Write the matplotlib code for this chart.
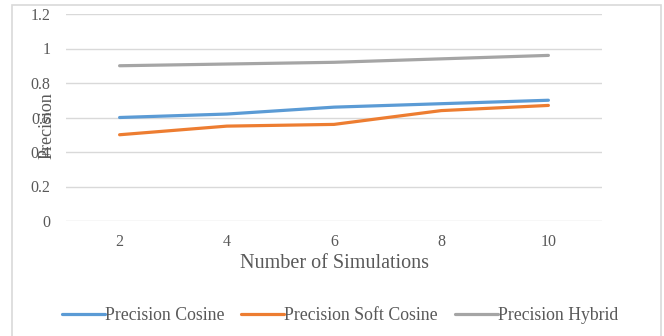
import matplotlib
matplotlib.use("Agg")
import matplotlib.pyplot as plt
from matplotlib.patches import Rectangle

categories = ["2", "4", "6", "8", "10"]
precision_cosine = [0.60, 0.62, 0.66, 0.68, 0.70]
precision_soft_cosine = [0.50, 0.55, 0.56, 0.64, 0.67]
precision_hybrid = [0.90, 0.91, 0.92, 0.94, 0.96]
y_ticks = [0, 0.2, 0.4, 0.6, 0.8, 1.0, 1.2]
y_tick_labels = ["0", "0.2", "0.4", "0.6", "0.8", "1", "1.2"]

plt.rcParams['font.family'] = ['Liberation Serif', 'DejaVu Serif']
text_color = "#595959"

W, H = 664, 336
fig = plt.figure(figsize=(W / 100, H / 100), dpi=100)
fig.patch.set_facecolor("white")

# chart border
fig.patches.append(Rectangle((12 / W, -0.1), (661 - 12) / W, 1 - 5 / H + 0.1,
                             transform=fig.transFigure, fill=False,
                             edgecolor="#D9D9D9", linewidth=1.2))

left, right, top, bottom = 66 / W, 602 / W, 14 / H, 221 / H
ax = fig.add_axes([left, 1 - bottom, right - left, bottom - top])

x = list(range(len(categories)))
ax.plot(x, precision_cosine, color="#5B9BD5", linewidth=2.3, solid_capstyle="round",
        label="Precision Cosine")
ax.plot(x, precision_soft_cosine, color="#ED7D31", linewidth=2.3, solid_capstyle="round",
        label="Precision Soft Cosine")
ax.plot(x, precision_hybrid, color="#A5A5A5", linewidth=2.3, solid_capstyle="round",
        label="Precision Hybrid")

ax.set_xlim(-0.5, len(categories) - 0.5)
ax.set_ylim(0, 1.2)
ax.set_yticks(y_ticks)
ax.set_yticklabels(y_tick_labels)
ax.set_xticks(x)
ax.set_xticklabels(categories)
ax.grid(axis="y", color="#D9D9D9", linewidth=1.0)
ax.set_axisbelow(True)
for s in ax.spines.values():
    s.set_visible(False)
ax.tick_params(axis="both", length=0, labelsize=11.5, colors=text_color)
ax.tick_params(axis="y", pad=11)
ax.tick_params(axis="x", pad=9)

fig.text(47 / W, 1 - 126 / H, "Precision", rotation=90, ha="center", va="center",
         fontsize=13, color=text_color)
fig.text(335 / W, 1 - 263 / H, "Number of Simulations", ha="center", va="center",
         fontsize=14.5, color=text_color)

fig.legend(loc="center", bbox_to_anchor=(340 / W, 1 - 316 / H), ncol=3, frameon=False,
           fontsize=12.8, handlelength=2.4, handletextpad=0.02, columnspacing=0.95,
           labelcolor=text_color)

fig.savefig("out.png", dpi=100, facecolor="white")
